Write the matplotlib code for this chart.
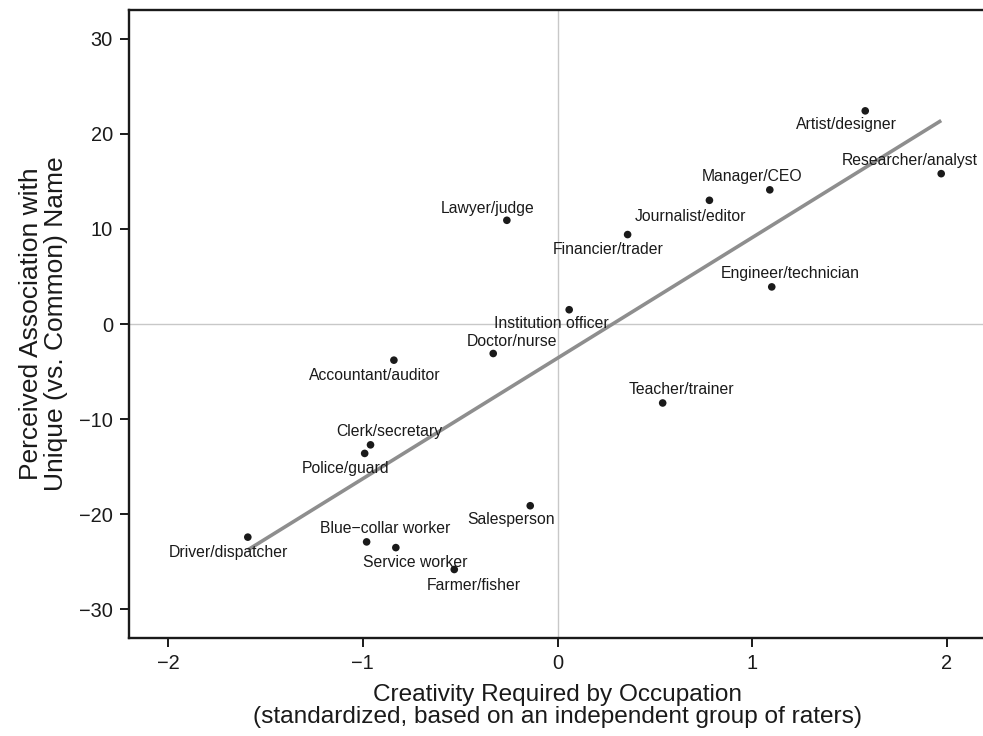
import matplotlib
matplotlib.use("Agg")
import matplotlib.pyplot as plt
import numpy as np

plt.rcParams["font.family"] = ["Liberation Sans", "DejaVu Sans"]

# occupation -> (creativity z-score, perceived unique-name association)
occupations = [
    "Artist/designer", "Researcher/analyst", "Manager/CEO", "Journalist/editor",
    "Financier/trader", "Engineer/technician", "Lawyer/judge", "Institution officer",
    "Doctor/nurse", "Accountant/auditor", "Teacher/trainer", "Clerk/secretary",
    "Police/guard", "Salesperson", "Blue\u2212collar worker", "Service worker",
    "Farmer/fisher", "Driver/dispatcher",
]
creativity = [1.58, 1.97, 1.09, 0.78, 0.36, 1.10, -0.26, 0.06,
              -0.33, -0.84, 0.54, -0.96, -0.99, -0.14, -0.98, -0.83,
              -0.53, -1.59]
association = [22.4, 15.8, 14.1, 13.0, 9.4, 3.9, 10.9, 1.5,
               -3.1, -3.8, -8.3, -12.7, -13.6, -19.1, -22.9, -23.5,
               -25.8, -22.4]

# label offsets from each dot, in pixels (x right, y up)
label_offsets = [(-19, -14), (-31, 13), (-18, 13), (-19, -16),
                 (-19, -15), (19, 13), (-19, 12), (-18, -14),
                 (19, 12), (-19, -15), (19, 13), (19, 13),
                 (-19, -15), (-19, -14), (19, 13), (19, -15),
                 (20, -16), (-19, -15)]

DPI = 100
fig = plt.figure(figsize=(9.83, 7.36), dpi=DPI)
ax = fig.add_axes([129 / 983, 1 - 638 / 736, 857 / 983, 628 / 736])

x = np.array(creativity)
y = np.array(association)

ax.axhline(0, color="#c8c8c8", lw=1.0, zorder=0)
ax.axvline(0, color="#c8c8c8", lw=1.0, zorder=0)

# least-squares fit across the observed range
slope, intercept = np.polyfit(x, y, 1)
xs = np.array([x.min(), x.max()])
ax.plot(xs, slope * xs + intercept, color="#8e8e8e", lw=2.6,
        solid_capstyle="butt", zorder=1)

ax.scatter(x, y, s=30, color="#1a1a1a", edgecolors="none", zorder=3)

pt = 72 / DPI
for name, xi, yi, (dx, dy) in zip(occupations, x, y, label_offsets):
    ax.annotate(name, (xi, yi), xytext=(dx * pt, dy * pt),
                textcoords="offset points", ha="center", va="center",
                fontsize=11.3, color="#1a1a1a", zorder=4)

ax.set_xlim(-2.2, 2.2)
ax.set_ylim(-33, 33)
ax.set_xticks([-2, -1, 0, 1, 2])
ax.set_yticks([-30, -20, -10, 0, 10, 20, 30])
ax.set_xticklabels(["\u22122", "\u22121", "0", "1", "2"])
ax.set_yticklabels(["\u221230", "\u221220", "\u221210", "0", "10", "20", "30"])

for side in ("left", "bottom", "top"):
    ax.spines[side].set_linewidth(1.7)
    ax.spines[side].set_color("#1a1a1a")
ax.spines["right"].set_visible(False)
ax.tick_params(direction="out", length=6.5, width=1.4, colors="#1a1a1a",
               labelsize=14.4, pad=5)

ax.set_xlabel("Creativity Required by Occupation\n"
              "(standardized, based on an independent group of raters)",
              fontsize=17.6, color="#1a1a1a", linespacing=0.97, labelpad=8)
ax.set_ylabel("Perceived Association with\nUnique (vs. Common) Name",
              fontsize=19.0, color="#1a1a1a", linespacing=1.07, labelpad=8)

fig.savefig("out.png", dpi=DPI, facecolor="white")
